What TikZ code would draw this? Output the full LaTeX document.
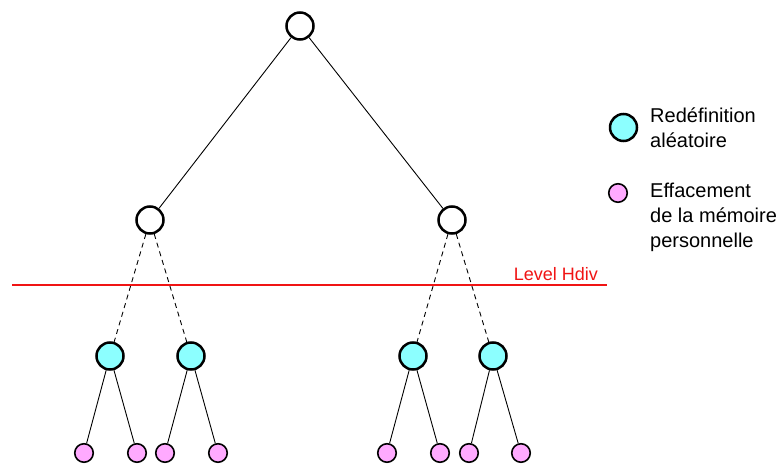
\documentclass[tikz,border=0pt]{standalone}
\usepackage{fontspec}
\setmainfont{Liberation Sans}
\definecolor{tealfill}{RGB}{140,255,255}
\definecolor{pinkfill}{RGB}{255,170,255}
\definecolor{hdivred}{RGB}{240,20,20}
\begin{document}
\begin{tikzpicture}[x=1pt,y=-1pt,
  bignode/.style={circle,draw=black,line width=2.5pt,minimum size=27pt,inner sep=0pt},
  plain/.style={bignode,fill=white},
  redef/.style={bignode,fill=tealfill},
  erase/.style={circle,draw=black,line width=1.6pt,fill=pinkfill,minimum size=18.5pt,inner sep=0pt},
  edge/.style={draw=black,line width=0.9pt},
  dashedge/.style={edge,dashed,dash pattern=on 5pt off 4pt},
  legendtext/.style={font=\fontsize{20}{25}\selectfont,anchor=base west,inner sep=0pt}
]
\useasboundingbox (0,0) rectangle (782,465);
% tree nodes
\node[plain] (root) at (300,26) {};
\node[plain] (ml) at (150,220) {};
\node[plain] (mr) at (452,220) {};
\node[redef] (t1) at (110,356) {};
\node[redef] (t2) at (191,356) {};
\node[redef] (t3) at (413,356) {};
\node[redef] (t4) at (493,356) {};
\node[erase] (p1) at (84,453) {};
\node[erase] (p2) at (137,453) {};
\node[erase] (p3) at (165,453) {};
\node[erase] (p4) at (218,453) {};
\node[erase] (p5) at (387,453) {};
\node[erase] (p6) at (440,453) {};
\node[erase] (p7) at (469,453) {};
\node[erase] (p8) at (521,453) {};
% edges
\draw[edge] (root) -- (ml);
\draw[edge] (root) -- (mr);
\draw[dashedge] (ml) -- (t1);
\draw[dashedge] (ml) -- (t2);
\draw[dashedge] (mr) -- (t3);
\draw[dashedge] (mr) -- (t4);
\draw[edge] (t1) -- (p1);
\draw[edge] (t1) -- (p2);
\draw[edge] (t2) -- (p3);
\draw[edge] (t2) -- (p4);
\draw[edge] (t3) -- (p5);
\draw[edge] (t3) -- (p6);
\draw[edge] (t4) -- (p7);
\draw[edge] (t4) -- (p8);
% level line
\coordinate (hl) at (12,285);
\coordinate (hr) at (607,285);
\draw[hdivred,line width=1.5pt] (hl) -- (hr);
\node[text=hdivred,font=\fontsize{18}{21}\selectfont,anchor=base east,inner sep=0pt] (hlabel) at (598,280) {Level Hdiv};
% legend
\node[redef] (legteal) at (623.5,127.5) {};
\node[legendtext] (legtealtext) at (650,123) {\begin{tabular}[t]{@{}l@{}}Redéfinition\\aléatoire\end{tabular}};
\node[erase] (legpink) at (618,193) {};
\node[legendtext] (legpinktext) at (650,198) {\begin{tabular}[t]{@{}l@{}}Effacement\\de la mémoire\\personnelle\end{tabular}};
\end{tikzpicture}
\end{document}
